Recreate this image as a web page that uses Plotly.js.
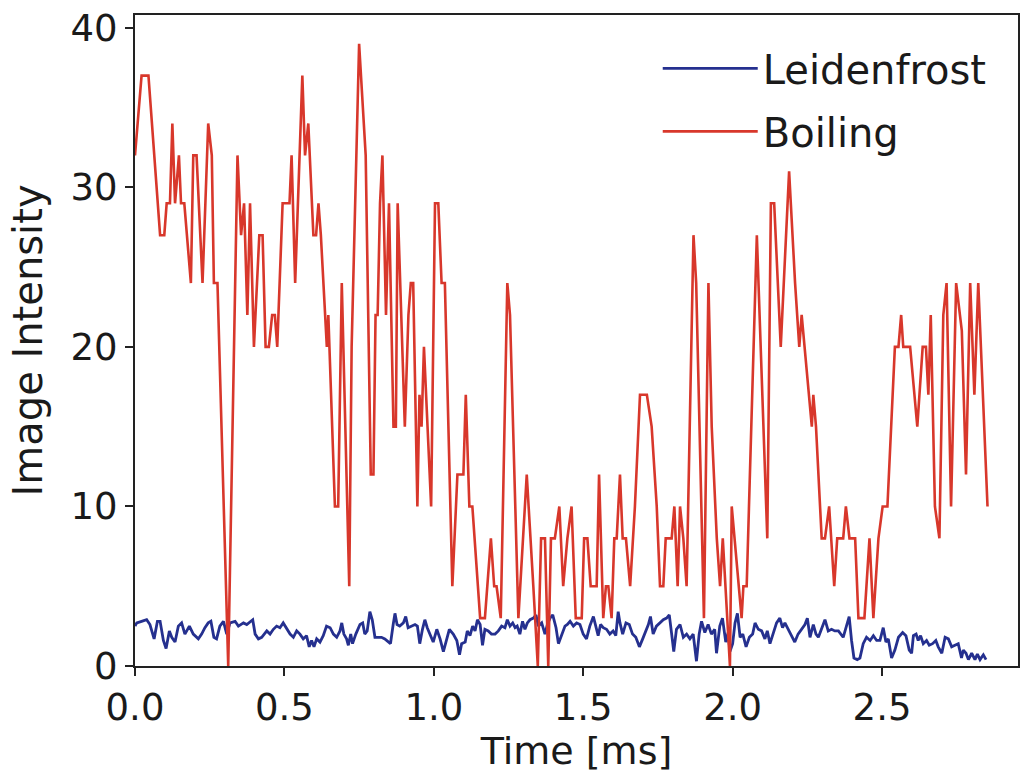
<!DOCTYPE html>
<html>
<head>
<meta charset="utf-8">
<script src="https://cdn.plot.ly/plotly-3.0.1.min.js"></script>
<style>html,body{margin:0;padding:0;background:#fff;}#chart{width:1021px;height:774px;}</style>
</head>
<body>
<div id="chart"></div>
<script>
// Boiling series (time in ms, image intensity)
const boilingTime = [0.000,0.022,0.045,0.084,0.098,0.106,0.117,0.125,0.134,0.147,0.154,0.165,0.187,0.195,0.206,0.226,0.245,0.257,0.264,0.276,0.312,0.343,0.355,0.365,0.376,0.385,0.398,0.416,0.427,0.437,0.448,0.459,0.468,0.476,0.494,0.517,0.524,0.536,0.560,0.569,0.580,0.597,0.606,0.614,0.622,0.642,0.647,0.669,0.680,0.692,0.717,0.725,0.750,0.772,0.789,0.798,0.805,0.812,0.820,0.828,0.840,0.850,0.865,0.873,0.879,0.903,0.915,0.923,0.931,0.945,0.952,0.959,0.967,0.991,1.004,1.015,1.026,1.037,1.062,1.079,1.099,1.107,1.119,1.129,1.155,1.171,1.191,1.202,1.210,1.224,1.246,1.255,1.283,1.311,1.333,1.348,1.359,1.372,1.383,1.392,1.405,1.420,1.433,1.447,1.461,1.475,1.495,1.503,1.514,1.525,1.545,1.553,1.567,1.576,1.584,1.595,1.604,1.612,1.623,1.632,1.643,1.657,1.673,1.684,1.690,1.713,1.729,1.746,1.757,1.768,1.776,1.796,1.805,1.816,1.824,1.835,1.846,1.869,1.878,1.904,1.919,1.930,1.947,1.958,1.967,1.991,1.997,2.030,2.036,2.047,2.081,2.116,2.128,2.139,2.161,2.189,2.209,2.223,2.231,2.265,2.270,2.279,2.298,2.309,2.323,2.340,2.350,2.370,2.379,2.391,2.410,2.421,2.441,2.458,2.471,2.488,2.502,2.518,2.543,2.555,2.564,2.571,2.594,2.618,2.636,2.647,2.655,2.663,2.677,2.692,2.705,2.716,2.731,2.748,2.767,2.781,2.795,2.809,2.822,2.853];
const boilingIntensity = [32,37,37,27,27,29,29,34,29,32,29,29,24,32,32,24,34,32,24,24,0,32,27,29,22,29,20,27,27,20,20,22,22,20,29,29,32,24,37,32,34,27,27,29,27,20,22,10,10,24,5,20,39,32,12,12,22,22,29,32,22,29,15,15,29,15,22,24,24,10,17,15,20,10,29,29,24,24,5,12,12,17,10,10,3,3,8,5,5,3,24,22,3,12,5,0,8,8,0,8,8,10,5,8,10,3,3,8,8,5,5,12,3,5,5,3,8,8,12,8,8,5,10,15,17,17,15,10,5,5,8,8,10,5,10,8,5,27,24,3,24,15,8,5,8,0,10,3,5,5,27,8,29,29,20,31,24,20,22,15,17,15,8,8,10,5,8,8,10,8,8,3,3,8,3,8,10,10,20,20,22,20,20,15,20,20,17,22,10,8,22,24,10,24,21,12,24,17,24,10];

// Leidenfrost series (time in ms, image intensity)
const leidenTime = [0.000,0.006,0.022,0.039,0.050,0.064,0.075,0.084,0.095,0.104,0.115,0.123,0.134,0.145,0.156,0.167,0.182,0.195,0.212,0.223,0.234,0.245,0.254,0.264,0.273,0.284,0.296,0.307,0.318,0.335,0.346,0.363,0.374,0.385,0.394,0.402,0.413,0.424,0.441,0.452,0.463,0.474,0.485,0.496,0.508,0.519,0.530,0.541,0.552,0.563,0.574,0.583,0.591,0.599,0.608,0.619,0.630,0.641,0.653,0.664,0.675,0.686,0.692,0.699,0.708,0.714,0.722,0.728,0.739,0.753,0.762,0.769,0.777,0.786,0.794,0.803,0.814,0.825,0.836,0.848,0.855,0.864,0.870,0.877,0.886,0.898,0.906,0.914,0.925,0.937,0.945,0.953,0.962,0.970,0.978,0.987,0.998,1.010,1.021,1.032,1.043,1.052,1.065,1.077,1.086,1.093,1.105,1.112,1.121,1.130,1.138,1.146,1.155,1.163,1.171,1.182,1.193,1.205,1.216,1.227,1.238,1.246,1.255,1.264,1.272,1.279,1.288,1.297,1.305,1.313,1.322,1.333,1.342,1.350,1.361,1.372,1.380,1.389,1.398,1.409,1.417,1.428,1.439,1.447,1.456,1.467,1.478,1.489,1.500,1.511,1.522,1.534,1.543,1.550,1.558,1.567,1.578,1.589,1.600,1.609,1.617,1.623,1.632,1.643,1.654,1.665,1.676,1.688,1.699,1.706,1.718,1.725,1.734,1.745,1.756,1.768,1.779,1.788,1.796,1.803,1.812,1.824,1.835,1.846,1.857,1.868,1.879,1.888,1.896,1.907,1.918,1.929,1.940,1.946,1.957,1.966,1.977,1.985,1.991,2.000,2.008,2.016,2.025,2.034,2.045,2.056,2.067,2.075,2.086,2.097,2.108,2.116,2.125,2.136,2.147,2.158,2.167,2.175,2.186,2.197,2.208,2.219,2.231,2.242,2.250,2.259,2.270,2.279,2.287,2.298,2.309,2.320,2.331,2.342,2.354,2.370,2.381,2.390,2.398,2.406,2.417,2.426,2.437,2.448,2.460,2.471,2.482,2.493,2.504,2.513,2.521,2.532,2.543,2.555,2.569,2.580,2.591,2.599,2.605,2.614,2.621,2.629,2.638,2.649,2.658,2.669,2.680,2.688,2.700,2.711,2.722,2.733,2.744,2.755,2.766,2.772,2.781,2.789,2.800,2.811,2.819,2.828,2.839,2.848];
const leidenIntensity = [2.5,2.7,2.8,2.9,2.6,1.7,2.8,2.8,1.6,1.1,2.2,1.8,1.5,2.5,2.7,2.0,2.5,2.0,1.7,2.0,2.4,2.7,2.8,1.8,1.7,2.5,2.8,2.0,2.7,2.8,2.5,2.7,2.6,2.8,2.9,2.0,1.7,1.8,2.2,2.0,2.3,2.5,2.4,2.7,2.3,2.0,1.8,2.2,2.0,1.7,1.9,1.2,1.6,1.2,1.7,1.5,1.9,2.5,2.4,2.0,1.8,2.2,2.7,2.0,1.7,1.3,2.0,1.4,2.0,2.6,2.7,2.0,2.2,3.4,2.9,1.8,1.8,1.8,1.7,1.5,1.4,2.6,3.3,2.6,2.5,2.7,3.1,2.4,2.5,2.6,2.5,1.4,2.3,2.9,2.4,2.0,1.5,2.3,1.7,0.9,1.7,2.3,2.0,1.6,0.7,1.4,1.5,2.2,1.9,2.5,2.2,2.9,2.6,1.3,2.3,2.2,2.0,2.0,2.2,2.5,2.4,2.9,2.5,2.7,2.4,2.5,2.0,2.8,2.3,2.7,2.9,3.0,3.2,2.5,2.7,2.0,2.6,3.0,3.2,2.4,1.4,2.0,2.5,2.6,2.8,2.5,2.7,2.6,2.0,1.7,2.5,3.1,2.3,1.9,2.6,2.4,2.3,2.0,2.2,1.9,3.4,2.7,2.0,2.7,2.6,2.0,1.8,1.2,1.7,2.0,2.6,3.1,2.0,2.5,2.7,2.9,3.0,3.2,2.0,0.9,2.3,2.6,1.8,2.0,1.7,2.0,0.3,2.0,2.8,2.1,2.6,2.0,2.3,0.8,2.5,3.0,1.5,2.1,0.9,1.4,2.7,3.3,1.8,2.0,1.2,1.8,2.0,2.7,2.3,2.2,1.7,2.2,1.4,2.0,2.7,3.0,2.4,2.7,2.3,1.8,1.5,2.0,2.3,2.6,3.0,1.8,2.6,2.0,1.8,2.3,2.9,2.2,2.3,2.2,2.2,1.8,2.5,3.1,1.6,0.5,0.4,0.5,1.4,1.8,1.6,1.9,1.6,1.6,2.4,1.5,1.7,0.5,1.0,1.8,2.1,1.9,1.0,0.8,1.9,2.0,1.6,1.9,1.4,1.6,1.3,1.4,1.6,1.2,0.8,1.8,1.7,1.2,1.3,1.4,0.5,1.0,0.8,0.4,0.8,0.4,0.75,0.4,0.7,0.4];

const xTickVals = [0, 0.5, 1.0, 1.5, 2.0, 2.5];
const xTickText = ['0.0', '0.5', '1.0', '1.5', '2.0', '2.5'];
const yTickVals = [0, 10, 20, 30, 40];
const yTickText = ['0', '10', '20', '30', '40'];

const FONT = 'DejaVu Sans, Verdana, sans-serif';

const traces = [
  {
    x: leidenTime, y: leidenIntensity, type: 'scatter', mode: 'lines',
    name: 'Leidenfrost', legendgroup: 'a',
    line: {color: '#25308f', width: 2.8}
  },
  {
    x: boilingTime, y: boilingIntensity, type: 'scatter', mode: 'lines',
    name: 'Boiling', legendgroup: 'b',
    line: {color: '#d8372b', width: 2.6}
  }
];

const axisCommon = {
  showgrid: false, zeroline: false, showline: true, linecolor: '#222', linewidth: 2,
  mirror: true, ticks: 'outside', ticklen: 8, tickwidth: 2, tickcolor: '#222',
  tickfont: {family: FONT, size: 37, color: '#1a1a1a'}
};

const layout = {
  width: 1021, height: 774,
  margin: {l: 135, r: 3, t: 15, b: 108},
  paper_bgcolor: '#ffffff', plot_bgcolor: '#ffffff',
  font: {family: FONT, color: '#1a1a1a'},
  xaxis: Object.assign({}, axisCommon, {
    range: [0, 2.955], tickvals: xTickVals, ticktext: xTickText,
    title: {text: 'Time [ms]', font: {family: FONT, size: 38, color: '#1a1a1a'}, standoff: 4}
  }),
  yaxis: Object.assign({}, axisCommon, {
    range: [0, 40.8], tickvals: yTickVals, ticktext: yTickText,
    title: {text: 'Image Intensity', font: {family: FONT, size: 40, color: '#1a1a1a'}, standoff: 16}
  }),
  showlegend: true,
  legend: {
    x: 0.592, y: 0.968, xanchor: 'left', yanchor: 'top',
    bgcolor: 'rgba(0,0,0,0)', borderwidth: 0,
    font: {family: FONT, size: 40, color: '#1a1a1a'},
    itemwidth: 95, tracegroupgap: 8
  }
};

Plotly.newPlot('chart', traces, layout, {displayModeBar: false, staticPlot: true});
</script>
</body>
</html>
